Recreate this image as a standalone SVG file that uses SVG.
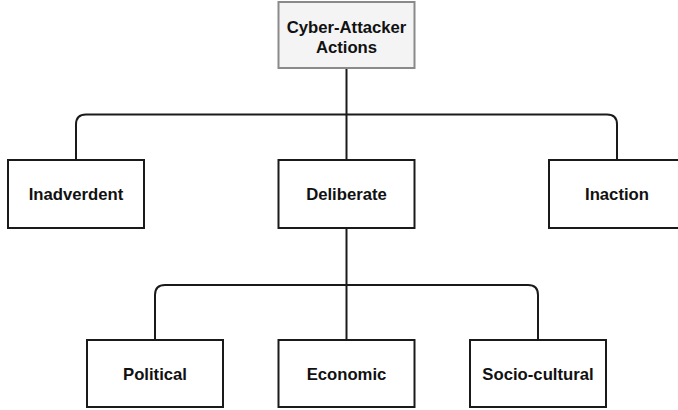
<svg xmlns="http://www.w3.org/2000/svg" width="678" height="410" viewBox="0 0 678 410">
  <style>
    .box { fill: #ffffff; stroke: #1a1a1a; stroke-width: 2; }
    .root { fill: #f4f4f4; stroke: #8a8a8a; stroke-width: 2; }
    .lbl { font-family: "Liberation Sans", Arial, Helvetica, sans-serif; font-weight: bold; font-size: 16.7px; fill: #111111; text-anchor: middle; }
    .edge { fill: none; stroke: #1a1a1a; stroke-width: 2; }
  </style>
  <rect width="678" height="410" fill="#ffffff"/>

  <!-- connectors -->
  <g id="connectors">
    <path class="edge" d="M346.5,68 V160"/>
    <path class="edge" d="M76,160 V124.5 Q76,114.5 86,114.5 H607 Q617,114.5 617,124.5 V160"/>
    <path class="edge" d="M346.5,228 V340"/>
    <path class="edge" d="M155,340 V295 Q155,285 165,285 H528 Q538,285 538,295 V340"/>
  </g>

  <!-- root -->
  <g id="cyber-attacker-actions">
    <rect class="root" x="278.5" y="2" width="136" height="66"/>
    <text class="lbl" x="346.5" y="33">Cyber-Attacker</text>
    <text class="lbl" x="346.5" y="53">Actions</text>
  </g>

  <!-- second level -->
  <g id="inadverdent">
    <rect class="box" x="8" y="160" width="136" height="68"/>
    <text class="lbl" x="76" y="200">Inadverdent</text>
  </g>
  <g id="deliberate">
    <rect class="box" x="278.5" y="160" width="136" height="68"/>
    <text class="lbl" x="346.5" y="200">Deliberate</text>
  </g>
  <g id="inaction">
    <rect class="box" x="549" y="160" width="136" height="68"/>
    <text class="lbl" x="617" y="200">Inaction</text>
  </g>

  <!-- third level -->
  <g id="political">
    <rect class="box" x="87" y="340" width="136" height="67"/>
    <text class="lbl" x="155" y="380">Political</text>
  </g>
  <g id="economic">
    <rect class="box" x="278.5" y="340" width="136" height="67"/>
    <text class="lbl" x="346.5" y="380">Economic</text>
  </g>
  <g id="socio-cultural">
    <rect class="box" x="470" y="340" width="136" height="67"/>
    <text class="lbl" x="538" y="380">Socio-cultural</text>
  </g>
</svg>
